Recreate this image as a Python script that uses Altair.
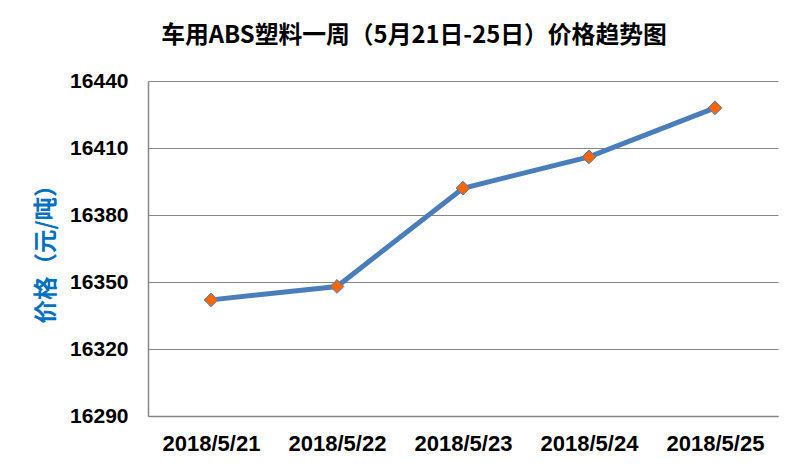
import altair as alt
import pandas as pd

dates = ["2018/5/21", "2018/5/22", "2018/5/23", "2018/5/24", "2018/5/25"]
prices = [16342, 16348, 16392, 16406, 16428]
y_ticks = [16290, 16320, 16350, 16380, 16410, 16440]

df = pd.DataFrame({"date": dates, "price": prices})

x = alt.X(
    "date:N",
    sort=dates,
    scale=alt.Scale(type="point", padding=0.5),
    axis=alt.Axis(
        title=None, labelAngle=0, labelFont="Liberation Sans", labelFontSize=22,
        labelFontWeight="bold", labelColor="black", labelPadding=17, ticks=False,
        domainColor="#868686", domainWidth=1.5, grid=False,
    ),
)
y = alt.Y(
    "price:Q",
    scale=alt.Scale(domain=[16290, 16440], nice=False, zero=False),
    axis=alt.Axis(
        values=y_ticks, format="d", title="价格（元/吨）", titleColor="#0070C0",
        titleFont="Noto Sans CJK SC", titleFontSize=23.5, titleFontWeight="bold",
        titleX=-102, titleY=167, titleBaseline="middle", titleAngle=-90,
        labelFont="Liberation Sans", labelFontSize=21, labelFontWeight="bold",
        labelColor="black", labelPadding=20, ticks=False,
        domainColor="#868686", domainWidth=1.5,
        gridColor="#868686", gridWidth=1.2,
    ),
)

base = alt.Chart(df).encode(x=x, y=y)
line = base.mark_line(color="#4A7EBB", strokeWidth=5)
pts = base.mark_point(shape="diamond", filled=True, fill="#FF6600", stroke="#4A7EBB",
                      strokeWidth=1, size=190, opacity=1)

chart = (line + pts).properties(
    width=630, height=335,
    title=alt.TitleParams(
        "车用ABS塑料一周（5月21日-25日）价格趋势图", font="Noto Sans CJK SC",
        fontSize=23.8, fontWeight="bold", color="black", anchor="middle",
        dx=-49, offset=10, baseline="middle",
    ),
    autosize=alt.AutoSizeParams(type="none"),
    padding={"left": 140, "top": 73, "right": 14, "bottom": 45},
    background="white",
).configure_view(stroke=None)

chart.save("out.html", embed_options={"renderer": "svg", "actions": False})
